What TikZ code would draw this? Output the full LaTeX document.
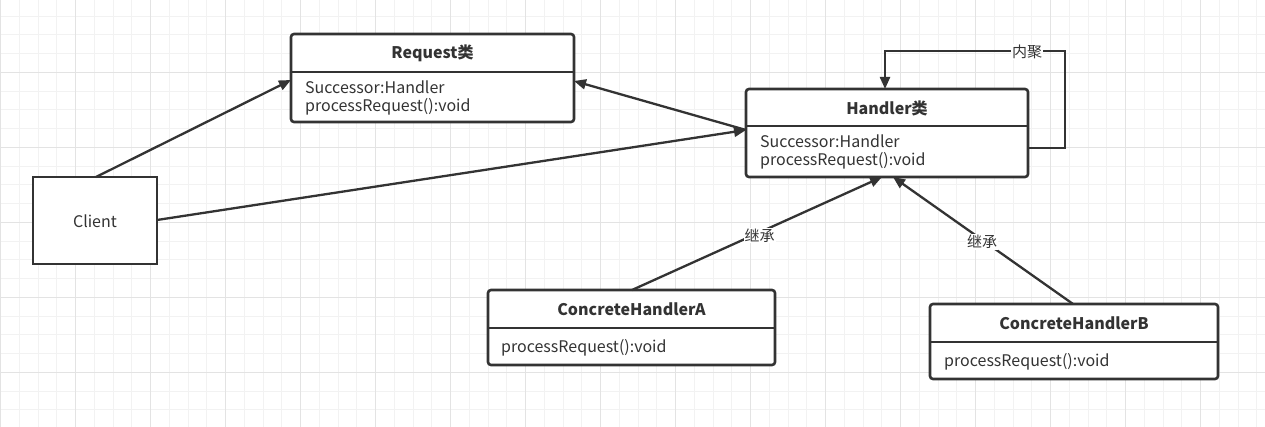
\documentclass[tikz,border=0pt]{standalone}
\usepackage{fontspec}
\setmainfont{Noto Sans CJK SC}
\usetikzlibrary{arrows.meta,positioning,calc}
\definecolor{ink}{HTML}{333333}
\definecolor{gridminor}{HTML}{F2F2F2}
\definecolor{gridmajor}{HTML}{E3E3E3}
\tikzset{
  umlbox/.style={draw=ink,line width=2.6pt,rounded corners=3pt,fill=white},
  divider/.style={draw=ink,line width=2.4pt},
  plainbox/.style={draw=ink,line width=2.6pt,fill=white},
  ttl/.style={font=\bfseries\fontsize{16}{18}\selectfont,text=ink,anchor=center},
  attr/.style={font=\fontsize{16}{18}\selectfont,text=ink,anchor=base west,inner sep=0pt},
  conn/.style={draw=ink,line width=2.3pt,-{Triangle[length=12pt,width=10pt]}},
  lbl/.style={font=\fontsize{15}{17}\selectfont,text=ink,fill=white,inner sep=1pt}
}
\begin{document}
\begin{tikzpicture}[x=1pt,y=-1pt]
\useasboundingbox (0,0) rectangle (1265,427);
\fill[white] (0,0) rectangle (1265,427);
% grid
\foreach \i in {0,...,68} {
  \draw[gridminor,line width=1pt] ({0.5+18.75*\i},0) -- ({0.5+18.75*\i},427);
}
\foreach \j in {0,...,23} {
  \draw[gridminor,line width=1pt] (0,{-2.7+18.75*\j}) -- (1265,{-2.7+18.75*\j});
}
\foreach \i in {0,...,17} {
  \draw[gridmajor,line width=1pt] ({0.5+75*\i},0) -- ({0.5+75*\i},427);
}
\foreach \j in {0,...,6} {
  \draw[gridmajor,line width=1pt] (0,{-2.7+75*\j}) -- (1265,{-2.7+75*\j});
}

% Request box
\draw[umlbox] (291,34) rectangle (574,122);
\draw[divider] (291,72) -- (574,72);
\node[ttl] (reqt) at (432.5,53) {Request类};
\node[attr] (reqa1) at (305,94) {Successor:Handler};
\node[attr] (reqa2) at (305,112) {processRequest():void};
\coordinate (reqL) at (291,80);
\coordinate (reqR) at (574,81);

% Handler box
\draw[umlbox] (746,89) rectangle (1028,177);
\draw[divider] (746,126) -- (1028,126);
\node[ttl] (hant) at (887,108) {Handler类};
\node[attr] (hana1) at (760,148) {Successor:Handler};
\node[attr] (hana2) at (760,166) {processRequest():void};
\coordinate (hanL) at (746,130);
\coordinate (hanR) at (1028,148);
\coordinate (hanT) at (885,89);
\coordinate (hanB1) at (882,177);
\coordinate (hanB2) at (893,177);

% Client
\node[plainbox,minimum width=124pt,minimum height=87pt,inner sep=0pt] (client) at (95,220.5) {};
\node[font=\fontsize{16}{18}\selectfont,text=ink] (clientt) at (95,221) {Client};
\coordinate (cliT) at (96,177);
\coordinate (cliR) at (157,220);

% ConcreteHandlerA
\draw[umlbox] (488,290) rectangle (775,365);
\draw[divider] (488,328) -- (775,328);
\node[ttl] (chat) at (631.5,309) {ConcreteHandlerA};
\node[attr] (chaa) at (501,352) {processRequest():void};
\coordinate (chaT) at (632,290);

% ConcreteHandlerB
\draw[umlbox] (930,304) rectangle (1218,379);
\draw[divider] (930,342) -- (1218,342);
\node[ttl] (chbt) at (1074,323) {ConcreteHandlerB};
\node[attr] (chba) at (944,366) {processRequest():void};
\coordinate (chbT) at (1073,304);

% connectors
\draw[conn] (cliT) -- (reqL);
\draw[conn] (hanL) -- (reqR);
\draw[conn] (cliR) -- (hanL);
\coordinate (loop1) at (1065,148);
\coordinate (loop2) at (1065,51);
\coordinate (loop3) at (885,51);
\draw[conn] (hanR) -- (loop1) -- (loop2) -- (loop3) -- (hanT);
\node[lbl] (agg) at (1027,52) {内聚};
\draw[conn] (chaT) -- node[lbl,pos=0.51,yshift=-3pt] (inhA) {继承} (hanB1);
\draw[conn] (chbT) -- node[lbl,pos=0.505,yshift=-2pt] (inhB) {继承} (hanB2);
\end{tikzpicture}
\end{document}
